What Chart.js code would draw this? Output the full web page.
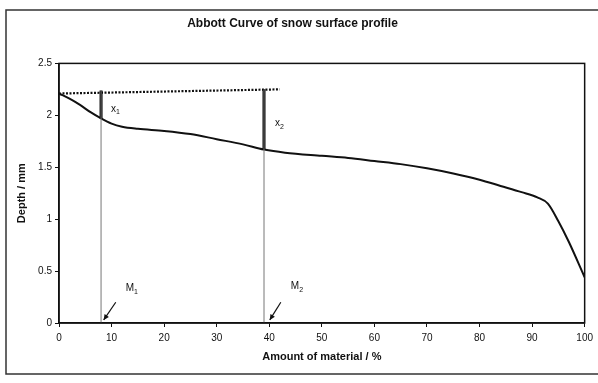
<!DOCTYPE html>
<html>
<head>
<meta charset="utf-8">
<script src="https://cdn.jsdelivr.net/npm/chart.js@4"></script>
<style>
  html, body { margin: 0; padding: 0; background: #fff; }
  #wrap { width: 598px; height: 383px; }
</style>
</head>
<body>
<div id="wrap"><canvas id="abbott" width="598" height="383"></canvas></div>
<script>
// Abbott curve (amount of material % -> depth mm)
const material = [0, 2, 4, 6, 8, 10, 12, 15, 20, 25, 30, 35, 39, 43, 50, 55, 60, 65, 70, 75, 80, 84, 88, 91, 93, 95, 97, 100];
const depth = [2.21, 2.16, 2.10, 2.03, 1.97, 1.92, 1.89, 1.87, 1.85, 1.82, 1.77, 1.72, 1.67, 1.64, 1.61, 1.59, 1.56, 1.53, 1.49, 1.44, 1.38, 1.32, 1.26, 1.21, 1.15, 0.98, 0.78, 0.44];

// reference (peak) line and the two cut positions
const peakX = [0, 42];
const peakY = [2.21, 2.25];
const cutM1 = { at: 8, top: 2.24, curve: 1.97 };
const cutM2 = { at: 39, top: 2.25, curve: 1.67 };

const xTicks = [0, 10, 20, 30, 40, 50, 60, 70, 80, 90, 100];
const yTicks = [0, 0.5, 1, 1.5, 2, 2.5];

// text labels in data units; arrows from label down to the axis
const notes = [
  { base: 'x', sub: '1', x: 9.9, y: 2.06 },
  { base: 'x', sub: '2', x: 41.1, y: 1.92 },
  { base: 'M', sub: '1', x: 12.7, y: 0.33 },
  { base: 'M', sub: '2', x: 44.1, y: 0.35 }
];
const arrows = [
  { from: [10.8, 0.2], to: [8.5, 0.03] },
  { from: [42.2, 0.2], to: [40.1, 0.03] }
];

const toPts = (xs, ys) => xs.map((x, i) => ({ x, y: ys[i] }));

const extras = {
  id: 'extras',
  beforeDraw(chart) {
    const ctx = chart.ctx;
    ctx.save();
    ctx.strokeStyle = '#333';
    ctx.lineWidth = 1.5;
    ctx.strokeRect(6, 10, 600, 364);
    ctx.restore();
  },
  afterDraw(chart) {
    const { ctx, chartArea: a, scales: { x, y } } = chart;
    ctx.save();
    ctx.strokeStyle = '#111';
    ctx.lineWidth = 1.5;
    ctx.strokeRect(a.left, a.top, a.right - a.left, a.bottom - a.top);

    ctx.fillStyle = '#111';
    ctx.textBaseline = 'middle';
    notes.forEach((n) => {
      const px = x.getPixelForValue(n.x);
      const py = y.getPixelForValue(n.y);
      ctx.font = '10px "Liberation Sans", Arial, sans-serif';
      ctx.textAlign = 'left';
      ctx.fillText(n.base, px, py);
      const w = ctx.measureText(n.base).width;
      ctx.font = '7px "Liberation Sans", Arial, sans-serif';
      ctx.fillText(n.sub, px + w, py + 3);
    });

    ctx.lineWidth = 1.2;
    arrows.forEach((ar) => {
      const x0 = x.getPixelForValue(ar.from[0]), y0 = y.getPixelForValue(ar.from[1]);
      const x1 = x.getPixelForValue(ar.to[0]), y1 = y.getPixelForValue(ar.to[1]);
      ctx.beginPath();
      ctx.moveTo(x0, y0);
      ctx.lineTo(x1, y1);
      ctx.stroke();
      const ang = Math.atan2(y1 - y0, x1 - x0);
      ctx.beginPath();
      ctx.moveTo(x1, y1);
      ctx.lineTo(x1 - 6 * Math.cos(ang - 0.45), y1 - 6 * Math.sin(ang - 0.45));
      ctx.lineTo(x1 - 6 * Math.cos(ang + 0.45), y1 - 6 * Math.sin(ang + 0.45));
      ctx.closePath();
      ctx.fill();
    });
    ctx.restore();
  }
};

const font = '"Liberation Sans", Arial, sans-serif';

new Chart(document.getElementById('abbott'), {
  type: 'line',
  data: {
    datasets: [
      {
        label: 'M1 line',
        data: [{ x: cutM1.at, y: 0 }, { x: cutM1.at, y: cutM1.top }],
        borderColor: '#777',
        borderWidth: 1,
        pointRadius: 0
      },
      {
        label: 'M2 line',
        data: [{ x: cutM2.at, y: 0 }, { x: cutM2.at, y: cutM2.top }],
        borderColor: '#777',
        borderWidth: 1,
        pointRadius: 0
      },
      {
        label: 'x1',
        data: [{ x: cutM1.at, y: cutM1.top }, { x: cutM1.at, y: cutM1.curve }],
        borderColor: '#000',
        borderWidth: 3,
        pointRadius: 0
      },
      {
        label: 'x2',
        data: [{ x: cutM2.at, y: cutM2.top }, { x: cutM2.at, y: cutM2.curve }],
        borderColor: '#000',
        borderWidth: 3,
        pointRadius: 0
      },
      {
        label: 'Peak',
        data: toPts(peakX, peakY),
        borderColor: '#111',
        borderWidth: 2.2,
        borderDash: [2, 1.5],
        pointRadius: 0
      },
      {
        label: 'Abbott curve',
        data: toPts(material, depth),
        borderColor: '#111',
        borderWidth: 2,
        cubicInterpolationMode: 'monotone',
        pointRadius: 0
      }
    ]
  },
  options: {
    responsive: false,
    animation: false,
    layout: { padding: { left: 0, right: 13, top: 0, bottom: 10 } },
    scales: {
      x: {
        type: 'linear',
        min: 0,
        max: 100,
        afterBuildTicks: (s) => { s.ticks = xTicks.map((v) => ({ value: v })); },
        afterFit: (s) => { s.height = 50; },
        ticks: { color: '#111', font: { family: font, size: 10 }, padding: 5, maxRotation: 0 },
        grid: { drawOnChartArea: false, drawTicks: true, tickLength: 4, color: '#111' },
        border: { color: '#111', width: 1.5 },
        title: {
          display: true,
          text: 'Amount of material / %',
          color: '#111',
          font: { family: font, size: 11, weight: 'bold' },
          padding: { top: 0, bottom: 9 }
        }
      },
      y: {
        type: 'linear',
        min: 0,
        max: 2.5,
        afterBuildTicks: (s) => { s.ticks = yTicks.map((v) => ({ value: v })); },
        afterFit: (s) => { s.width = 59; },
        ticks: {
          color: '#111',
          font: { family: font, size: 10 },
          padding: 3,
          callback: (v) => String(v)
        },
        grid: { drawOnChartArea: false, drawTicks: true, tickLength: 4, color: '#111' },
        border: { color: '#111', width: 1.5 },
        title: {
          display: true,
          text: 'Depth / mm',
          color: '#111',
          font: { family: font, size: 11, weight: 'bold' },
          padding: { top: 15, bottom: 0 }
        }
      }
    },
    plugins: {
      legend: { display: false },
      tooltip: { enabled: false },
      title: {
        display: true,
        text: 'Abbott Curve of snow surface profile',
        color: '#111',
        font: { family: font, size: 12, weight: 'bold' },
        padding: { top: 16, bottom: 33 }
      }
    }
  },
  plugins: [extras]
});
</script>
</body>
</html>
